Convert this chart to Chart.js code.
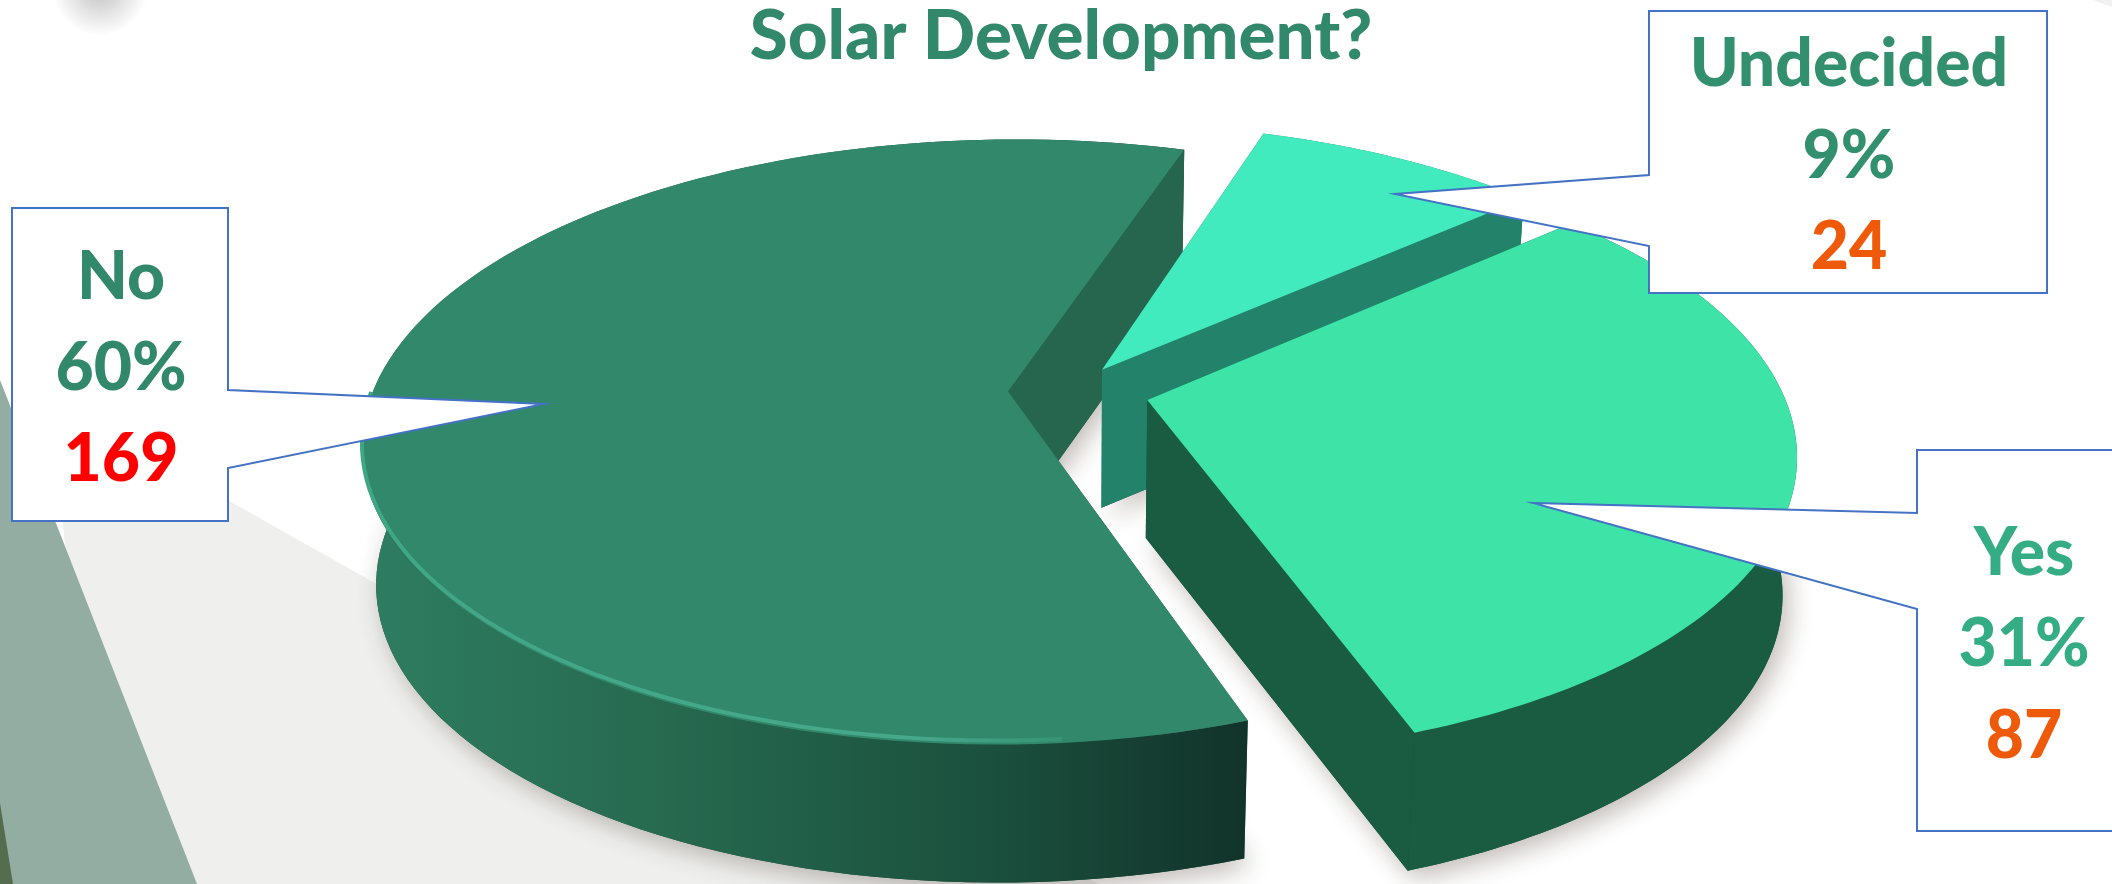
<!DOCTYPE html>
<html>
<head>
<meta charset="utf-8">
<title>Solar Development?</title>
<script src="https://cdn.jsdelivr.net/npm/chart.js@4.4.1/dist/chart.umd.js"></script>
<style>
  html, body { margin: 0; padding: 0; background: #fff; overflow: hidden; }
  #wrap { width: 2112px; height: 884px; }
</style>
</head>
<body>
<div id="wrap"><canvas id="grafico" width="2112" height="884"></canvas></div>
<script>
const tituloTexto = "Solar Development?";
const categorias = ["No", "Undecided", "Yes"];
const respostas = [169, 24, 87];
const percentuais = ["60%", "9%", "31%"];

const coresTopo = ["#32886a", "#42ebbd", "#3ee3a8"];
const coresParede = ["#26664f", "#22826a", "#195c42"];
const coresRotulo = ["#32886a", "#33906f", "#34ad85"];
const coresContagem = ["#ff0000", "#ee5a0a", "#ee5a0a"];

// caixas dos rotulos: [esquerda, topo, direita, baixo], notch = [y1, pontaX, pontaY, y2]
const caixas = [
  { box: [12, 208, 228, 521], lado: "dir", notch: [390, 544, 404, 468], cx: 121, bases: [299, 390, 481] },
  { box: [1649, 11, 2047, 293], lado: "esq", notch: [175, 1395, 194, 246], cx: 1849, bases: [86, 178, 269] },
  { box: [1917, 450, 2125, 831], lado: "esq", notch: [513, 1533, 503, 609], cx: 2024, bases: [575, 666, 758] }
];

// perspectiva do disco
const origemX = 1072, origemY = 391;
const abertoX = 635, abertoY = 294, persp = -0.167;
const queda = 138, encolhe = 0.98;

function projeta(u, v) {
  const w = 1 + persp * v;
  return { x: origemX + abertoX * u / w, y: origemY + abertoY * v / w };
}

function desce(p) {
  return { x: origemX + (p.x - origemX) * encolhe, y: p.y + queda };
}

function caminho(ctx, pts) {
  ctx.beginPath();
  pts.forEach((p, i) => i ? ctx.lineTo(p.x, p.y) : ctx.moveTo(p.x, p.y));
  ctx.closePath();
}

function geometria(arc) {
  const R = arc.outerRadius;
  const meio = (arc.startAngle + arc.endAngle) / 2;
  const off = arc.options.offset / R;
  const cu = off * Math.cos(meio), cv = off * Math.sin(meio);
  const borda = [];
  const passos = 120;
  for (let i = 0; i <= passos; i++) {
    const t = arc.startAngle + (arc.endAngle - arc.startAngle) * i / passos;
    borda.push(projeta(cu + Math.cos(t), cv + Math.sin(t)));
  }
  return { centro: projeta(cu, cv), borda };
}

function fundo(ctx) {
  ctx.fillStyle = "#ffffff";
  ctx.fillRect(0, 0, 2112, 884);
  const g = ctx.createRadialGradient(100, -12, 5, 100, -12, 48);
  g.addColorStop(0, "rgba(0,0,0,0.22)");
  g.addColorStop(1, "rgba(0,0,0,0)");
  ctx.fillStyle = g;
  ctx.fillRect(40, 0, 120, 40);
  ctx.fillStyle = "#eff0ee";
  caminho(ctx, [{ x: 50, y: 400 }, { x: 373, y: 582 }, { x: 1100, y: 884 }, { x: 100, y: 884 }]);
  ctx.fill();
  ctx.fillStyle = "#94ada3";
  caminho(ctx, [{ x: 0, y: 380 }, { x: 197, y: 884 }, { x: 0, y: 884 }]);
  ctx.fill();
  ctx.fillStyle = "#566c4f";
  caminho(ctx, [{ x: 0, y: 803 }, { x: 13, y: 884 }, { x: 0, y: 884 }]);
  ctx.fill();
  ctx.fillStyle = "#f0f0f0";
  caminho(ctx, [{ x: 2093, y: 0 }, { x: 2112, y: 0 }, { x: 2112, y: 7 }]);
  ctx.fill();
}

function desenhaFatia(ctx, geo, i) {
  const { centro, borda } = geo;
  const baixo = borda.map(desce);
  const cb = desce(centro);
  const ultimo = borda.length - 1;

  ctx.fillStyle = coresParede[i];
  caminho(ctx, [centro, borda[0], baixo[0], cb]);
  ctx.fill();

  if (i === 0) {
    const g = ctx.createLinearGradient(364, 0, 1246, 0);
    g.addColorStop(0, "#2e7d62");
    g.addColorStop(0.35, "#26694f");
    g.addColorStop(0.72, "#1a4f3d");
    g.addColorStop(1, "#12332a");
    ctx.fillStyle = g;
  }
  caminho(ctx, borda.concat(baixo.slice().reverse()));
  ctx.fill();

  // parede interna fica por cima da curva
  ctx.fillStyle = coresParede[i];
  caminho(ctx, [centro, borda[ultimo], baixo[ultimo], cb]);
  ctx.fill();

  ctx.fillStyle = coresTopo[i];
  caminho(ctx, [centro].concat(borda));
  ctx.fill();

  if (i === 0) {
    const g = ctx.createLinearGradient(364, 0, 1150, 0);
    g.addColorStop(0, "#3fa686");
    g.addColorStop(0.7, "#46a98a");
    g.addColorStop(1, "rgba(63,166,134,0)");
    ctx.strokeStyle = g;
    ctx.lineWidth = 4;
    ctx.beginPath();
    borda.forEach((p, k) => {
      const q = { x: p.x, y: p.y - 4 };
      if (k < 8 || k > 60) return;
      k === 8 ? ctx.moveTo(q.x, q.y) : ctx.lineTo(q.x, q.y);
    });
    ctx.stroke();
  }
}

function desenhaCaixa(ctx, c, i) {
  const [e, t, d, b] = c.box;
  const [y1, px, py, y2] = c.notch;
  ctx.beginPath();
  if (c.lado === "dir") {
    ctx.moveTo(e, t); ctx.lineTo(d, t); ctx.lineTo(d, y1); ctx.lineTo(px, py);
    ctx.lineTo(d, y2); ctx.lineTo(d, b); ctx.lineTo(e, b);
  } else {
    ctx.moveTo(e, t); ctx.lineTo(d, t); ctx.lineTo(d, b); ctx.lineTo(e, b);
    ctx.lineTo(e, y2); ctx.lineTo(px, py); ctx.lineTo(e, y1);
  }
  ctx.closePath();
  ctx.fillStyle = "#ffffff";
  ctx.fill();
  ctx.strokeStyle = "#4472c4";
  ctx.lineWidth = 2;
  ctx.stroke();

  ctx.font = "900 66px Lato";
  ctx.textAlign = "center";
  ctx.textBaseline = "alphabetic";
  ctx.fillStyle = coresRotulo[i];
  ctx.fillText(categorias[i], c.cx, c.bases[0]);
  ctx.fillText(percentuais[i], c.cx, c.bases[1]);
  ctx.fillStyle = coresContagem[i];
  ctx.fillText(String(respostas[i]), c.cx, c.bases[2]);
}

const pizza3d = {
  id: "pizza3d",
  beforeDraw(chart) {
    fundo(chart.ctx);
  },
  beforeDatasetsDraw(chart) {
    const ctx = chart.ctx;
    const geos = chart.getDatasetMeta(0).data.map(geometria);

    // sombra
    ctx.save();
    ctx.shadowColor = "rgba(60,40,30,0.32)";
    ctx.shadowBlur = 26;
    ctx.shadowOffsetX = 6;
    ctx.shadowOffsetY = 8;
    ctx.fillStyle = "#1a4f3d";
    geos.forEach(g => {
      caminho(ctx, [desce(g.centro)].concat(g.borda.map(desce)));
      ctx.fill();
    });
    ctx.restore();

    geos.forEach((g, i) => desenhaFatia(ctx, g, i));
    caixas.forEach((c, i) => desenhaCaixa(ctx, c, i));
    return false;
  }
};

new Chart(document.getElementById("grafico"), {
  type: "pie",
  data: {
    labels: categorias,
    datasets: [{
      data: respostas,
      backgroundColor: coresTopo,
      offset: [38, 33, 46]
    }]
  },
  options: {
    responsive: false,
    devicePixelRatio: 1,
    animation: false,
    rotation: 160.5,
    layout: { padding: { left: 10 } },
    plugins: {
      legend: { display: false },
      tooltip: { enabled: false },
      title: {
        display: true,
        text: tituloTexto,
        color: "#32886a",
        font: { family: "Lato", weight: "900", size: 69, lineHeight: 1 },
        padding: { top: 2, bottom: 10 }
      }
    }
  },
  plugins: [pizza3d]
});
</script>
</body>
</html>
